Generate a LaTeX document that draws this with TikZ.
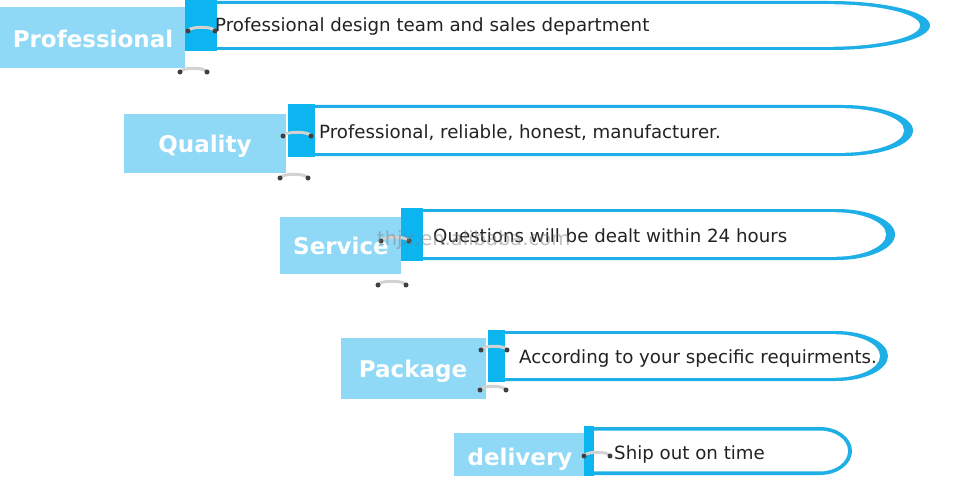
\documentclass[tikz,border=0pt]{standalone}
\usepackage{fontspec}
\setmainfont{DejaVu Sans}
\definecolor{lightbox}{HTML}{8FD9F6}
\definecolor{bandblue}{HTML}{0CB5F0}
\definecolor{rimblue}{HTML}{1DAFE6}
\definecolor{bodytext}{HTML}{222222}
\usetikzlibrary{calc}
\tikzset{
  x=1pt, y=-1pt,
  labelbox/.style={fill=lightbox, draw=none},
  bandbox/.style={fill=bandblue, draw=none},
  labeltext/.style={text=white, font=\fontsize{23}{27}\selectfont\bfseries, anchor=base, inner sep=0pt},
  bodylabel/.style={text=bodytext, font=\fontsize{18.2}{21}\selectfont, anchor=base west, inner sep=0pt},
  ringbar/.style={draw=gray!35, line width=3pt, line cap=round},
  ringdot/.style={fill=gray!50!black, draw=none},
  wmark/.style={text=gray, opacity=0.5, font=\fontsize{19.5}{22}\selectfont, anchor=base west, inner sep=0pt}
}
% #1 xL, #2 xR, #3 yT, #4 yB, #5 outer radius, #6 inner left, #7 inner right, #8 inner radius, #9 thickness
\newcommand{\mybubble}[9]{%
  \pgfmathsetmacro{\ym}{(#3+#4)/2}%
  \pgfmathsetmacro{\hh}{(#4-#3)/2}%
  \pgfmathsetmacro{\xs}{#2-#5}%
  \pgfmathsetmacro{\cx}{#2-#5+0.552*#5}%
  \pgfmathsetmacro{\cyA}{\ym-0.552*\hh}%
  \pgfmathsetmacro{\cyB}{\ym+0.552*\hh}%
  \fill[rimblue] (#1,#3) -- (\xs,#3) .. controls (\cx,#3) and (#2,\cyA) .. (#2,\ym)
     .. controls (#2,\cyB) and (\cx,#4) .. (\xs,#4) -- (#1,#4) -- cycle;
  \pgfmathsetmacro{\iT}{#3+#9}%
  \pgfmathsetmacro{\iB}{#4-#9}%
  \pgfmathsetmacro{\ih}{(\iB-\iT)/2}%
  \pgfmathsetmacro{\ixs}{#7-#8}%
  \pgfmathsetmacro{\icx}{#7-#8+0.552*#8}%
  \pgfmathsetmacro{\icyA}{\ym-0.552*\ih}%
  \pgfmathsetmacro{\icyB}{\ym+0.552*\ih}%
  \fill[white] (#6,\iT) -- (\ixs,\iT) .. controls (\icx,\iT) and (#7,\icyA) .. (#7,\ym)
     .. controls (#7,\icyB) and (\icx,\iB) .. (\ixs,\iB) -- (#6,\iB) -- cycle;
}
% ring: #1 name, #2 x1, #3 x2, #4 y
\newcommand{\myring}[4]{%
  \coordinate (#1a) at (#2,#4);
  \coordinate (#1b) at (#3,#4);
  \draw[ringbar] (#1a) .. controls ($(#1a)+(2,-5)$) and ($(#1b)+(-2,-5)$) .. (#1b);
  \fill[ringdot] (#1a) circle (2.5);
  \fill[ringdot] (#1b) circle (2.5);
}
\begin{document}
\begin{tikzpicture}
\useasboundingbox (0,0) rectangle (968,476);
\fill[white] (0,0) rectangle (968,476);

% Row 1
\mybubble{200}{930}{1}{50}{100}{217}{920}{92}{3.2}
\fill[bandbox] (185,0) rectangle (217,51);
\fill[labelbox] (0,7) rectangle (185,68);
\node[labeltext] (l1) at (93,48) {Professional};
\node[bodylabel] (t1) at (215,32) {Professional design team and sales department};
\myring{r1}{188}{215}{31}
\myring{r1x}{180}{207}{72}

% Row 2
\mybubble{300}{913}{105}{156}{70}{315}{904}{63}{3.2}
\fill[bandbox] (288,104) rectangle (315,157);
\fill[labelbox] (124,114) rectangle (286,173);
\node[labeltext] (l2) at (205,152) {Quality};
\node[bodylabel] (t2) at (319,138) {Professional, reliable, honest, manufacturer.};
\myring{r2}{283}{311}{136}
\myring{r2x}{280}{308}{178}

% Row 3
\mybubble{410}{895}{209}{260}{58}{423}{886}{52}{3.2}
\fill[bandbox] (401,208) rectangle (423,261);
\fill[labelbox] (280,217) rectangle (401,274);
\node[labeltext] (l3) at (341,254) {Service};
\myring{r3}{381}{409}{241}
\node[bodylabel] (t3) at (433,242) {Questions will be dealt within 24 hours};
\myring{r3x}{378}{406}{285}

% Row 4
\mybubble{495}{888}{331}{381}{52}{505}{880}{46}{3.2}
\fill[bandbox] (488,330) rectangle (505,382);
\fill[labelbox] (341,338) rectangle (486,399);
\node[labeltext] (l4) at (413,377) {Package};
\node[bodylabel] (t4) at (519,363) {According to your specific requirments.};
\myring{r4}{481}{507}{350}
\myring{r4x}{480}{506}{390}

% Row 5
\mybubble{590}{852}{427}{475}{32}{594}{848}{28}{3.6}
\fill[bandbox] (584,426) rectangle (594,476);
\fill[labelbox] (454,433) rectangle (584,476);
\node[labeltext] (l5) at (520,465) {delivery};
\myring{r5}{584}{610}{456}
\node[bodylabel] (t5) at (614,459) {Ship out on time};

% watermark
\node[wmark] (wm) at (377,245) {thjx.en.alibaba.com};
\end{tikzpicture}
\end{document}
